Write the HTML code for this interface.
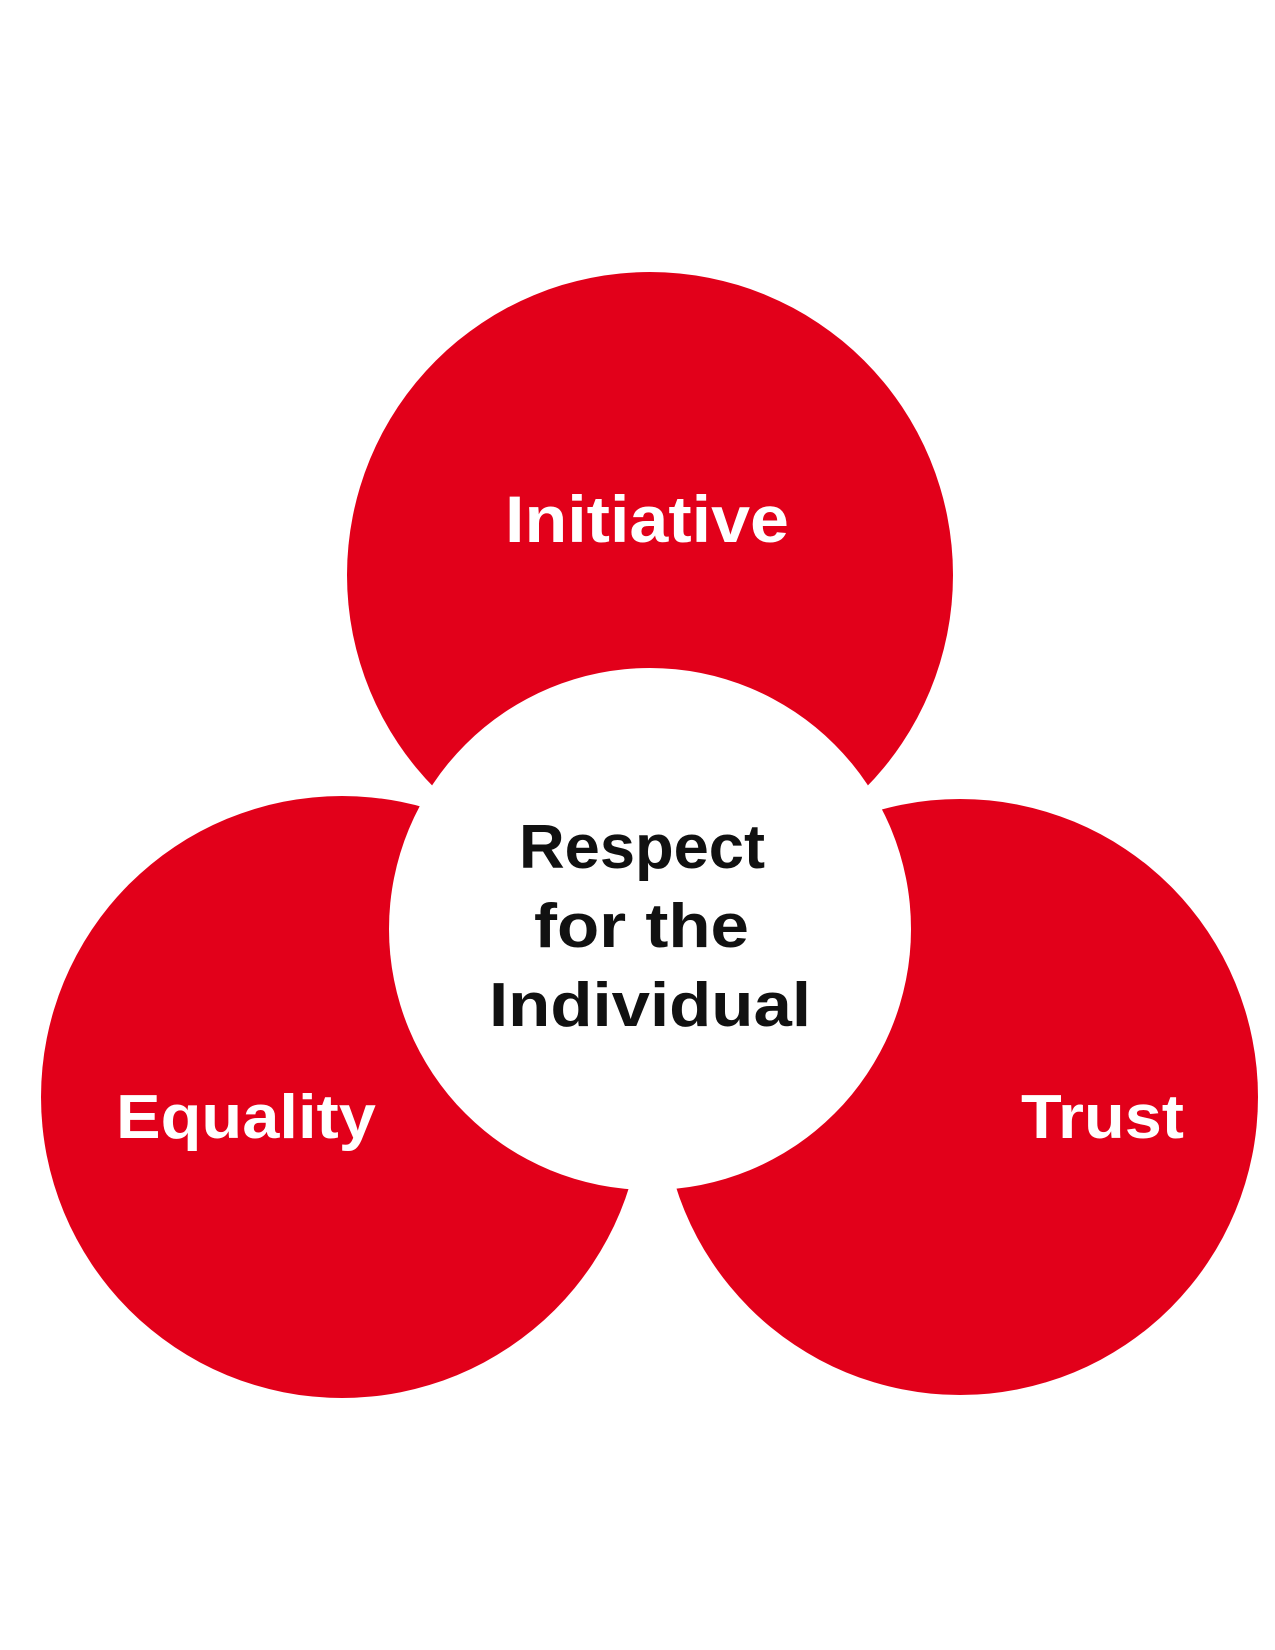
<!DOCTYPE html>
<html><head><meta charset="utf-8"><style>
html,body{margin:0;padding:0;background:#fff;}
svg{display:block}
text{font-family:"Liberation Sans",sans-serif;font-weight:bold;}
</style></head><body>
<svg width="1275" height="1650" viewBox="0 0 1275 1650" xmlns="http://www.w3.org/2000/svg">
<rect width="1275" height="1650" fill="#fff"/>
<circle cx="650" cy="575" r="303" fill="#e2001a"/>
<circle cx="342" cy="1097" r="301" fill="#e2001a"/>
<circle cx="960" cy="1097" r="298" fill="#e2001a"/>
<circle cx="650" cy="929" r="261" fill="#fff"/>
<text x="505" y="542" font-size="66" fill="#fff" textLength="284" lengthAdjust="spacingAndGlyphs">Initiative</text>
<text x="519" y="868" font-size="62" fill="#111" textLength="246" lengthAdjust="spacingAndGlyphs">Respect</text>
<text x="534" y="947" font-size="62" fill="#111" textLength="215" lengthAdjust="spacingAndGlyphs">for the</text>
<text x="489" y="1026" font-size="62" fill="#111" textLength="322" lengthAdjust="spacingAndGlyphs">Individual</text>
<text x="116" y="1138" font-size="62" fill="#fff" textLength="260" lengthAdjust="spacingAndGlyphs">Equality</text>
<text x="1021" y="1138" font-size="62" fill="#fff" textLength="163" lengthAdjust="spacingAndGlyphs">Trust</text>
</svg>
</body></html>
